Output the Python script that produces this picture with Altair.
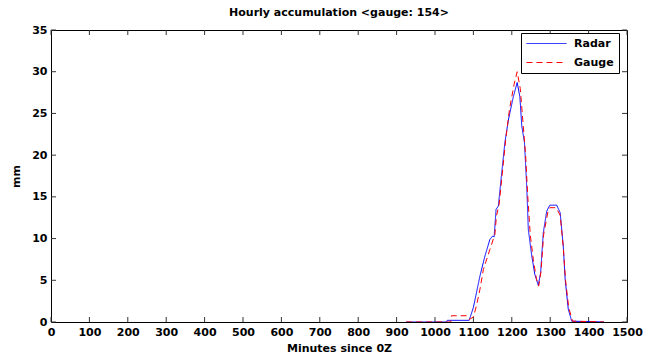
import altair as alt
import pandas as pd

# ---- data ----
radar_min = [925, 1030, 1032, 1089, 1100, 1117, 1130, 1143, 1150, 1154, 1159, 1165, 1172,
             1182, 1191, 1204, 1214, 1221, 1226, 1233, 1239, 1243, 1252, 1260, 1269, 1275,
             1282, 1291, 1299, 1317, 1326, 1334, 1339, 1347, 1356, 1440]
radar_mm = [0, 0, 0.2, 0.2, 1.75, 5.5, 7.9, 9.9, 10.3, 10.2, 13.5, 13.9, 17.1,
            21.5, 24.2, 27.0, 28.7, 27.0, 23.5, 21.5, 16.1, 11.1, 7.9, 5.7, 4.4, 5.9,
            10.7, 13.3, 14.0, 14.0, 13.1, 9.1, 5.1, 1.55, 0.1, 0]

gauge_min = [925, 1041, 1043, 1082, 1089, 1100, 1108, 1117, 1126, 1143, 1156, 1160, 1167,
             1172, 1184, 1194, 1206, 1214, 1222, 1229, 1236, 1241, 1248, 1256, 1264, 1270,
             1276, 1283, 1294, 1299, 1315, 1326, 1334, 1340, 1348, 1358, 1440]
gauge_mm = [0, 0, 0.75, 0.75, 0.3, 0.6, 1.95, 3.9, 6.3, 8.7, 10.5, 12.7, 14.1,
            16.3, 21.8, 25.5, 28.5, 30.0, 28.0, 24.0, 20.0, 15.5, 10.5, 7.5, 5.2, 4.3,
            6.0, 10.5, 13.2, 13.7, 13.7, 12.8, 9.0, 5.0, 1.8, 0.1, 0]

x_ticks = list(range(0, 1501, 100))
y_ticks = list(range(0, 36, 5))

W, H = 576, 292
FONT = "DejaVu Sans"

df = pd.concat([
    pd.DataFrame({"minutes": radar_min, "mm": radar_mm, "series": "Radar", "order": 0}),
    pd.DataFrame({"minutes": gauge_min, "mm": gauge_mm, "series": "Gauge", "order": 1}),
])

xscale = alt.Scale(domain=[0, 1500], nice=False, zero=False)
yscale = alt.Scale(domain=[0, 35], nice=False)
x_axis = alt.Axis(values=x_ticks, format="d", labelOverlap=False, labelFlush=False,
                  title="Minutes since 0Z", grid=False,
                  ticks=False, domain=False, labelPadding=4, titlePadding=5)
y_axis = alt.Axis(values=y_ticks, format="d", labelOverlap=False, labelFlush=False,
                  title="mm", grid=False, ticks=False,
                  domain=False, labelPadding=4, titlePadding=10)

lines = alt.Chart(df).mark_line(strokeWidth=1, clip=True).encode(
    x=alt.X("minutes:Q", scale=xscale, axis=x_axis),
    y=alt.Y("mm:Q", scale=yscale, axis=y_axis),
    color=alt.Color("series:N",
                    scale=alt.Scale(domain=["Radar", "Gauge"], range=["#0000ff", "#ff0000"]),
                    legend=alt.Legend(title=None, orient="none", legendX=470, legendY=3,
                                      symbolType="M-1,0H7", symbolSize=100,
                                      symbolStrokeWidth=1, strokeColor="black",
                                      fillColor="white", padding=5, rowPadding=7,
                                      labelOffset=37,
                                      labelFont=FONT, labelFontSize=11,
                                      labelFontWeight="bold", labelColor="black")),
    strokeDash=alt.StrokeDash("series:N",
                              scale=alt.Scale(domain=["Radar", "Gauge"],
                                              range=[[1, 0], [6, 4]]),
                              legend=alt.Legend(title=None)),
    order="order:Q",
)

xt = pd.DataFrame({"v": x_ticks})
yt = pd.DataFrame({"v": y_ticks})
tick_color = "#333333"
bottom = alt.Chart(xt).mark_rule(color=tick_color, strokeWidth=1).encode(
    x=alt.X("v:Q", scale=xscale, axis=x_axis), y=alt.value(H), y2=alt.value(H - 5))
top = alt.Chart(xt).mark_rule(color=tick_color, strokeWidth=1).encode(
    x=alt.X("v:Q", scale=xscale, axis=x_axis), y=alt.value(0), y2=alt.value(5))
left = alt.Chart(yt).mark_rule(color=tick_color, strokeWidth=1).encode(
    y=alt.Y("v:Q", scale=yscale, axis=y_axis), x=alt.value(0), x2=alt.value(5))
right = alt.Chart(yt).mark_rule(color=tick_color, strokeWidth=1).encode(
    y=alt.Y("v:Q", scale=yscale, axis=y_axis), x=alt.value(W), x2=alt.value(W - 5))

chart = alt.layer(bottom, top, left, right, lines).properties(
    width=W, height=H,
    title=alt.Title("Hourly accumulation <gauge: 154>", font=FONT, fontSize=11,
                    fontWeight="bold", color="black", anchor="middle", offset=6),
    autosize=alt.AutoSizeParams(type="none"),
    padding={"left": 51, "top": 30, "right": 27, "bottom": 35},
    background="white",
).configure_view(stroke="black", strokeWidth=1).configure_axis(
    labelFont=FONT, labelFontSize=11, labelFontWeight="bold", labelColor="black",
    titleFont=FONT, titleFontSize=11, titleFontWeight="bold", titleColor="black",
)

chart.save("out.html", embed_options={"renderer": "svg", "actions": False})
